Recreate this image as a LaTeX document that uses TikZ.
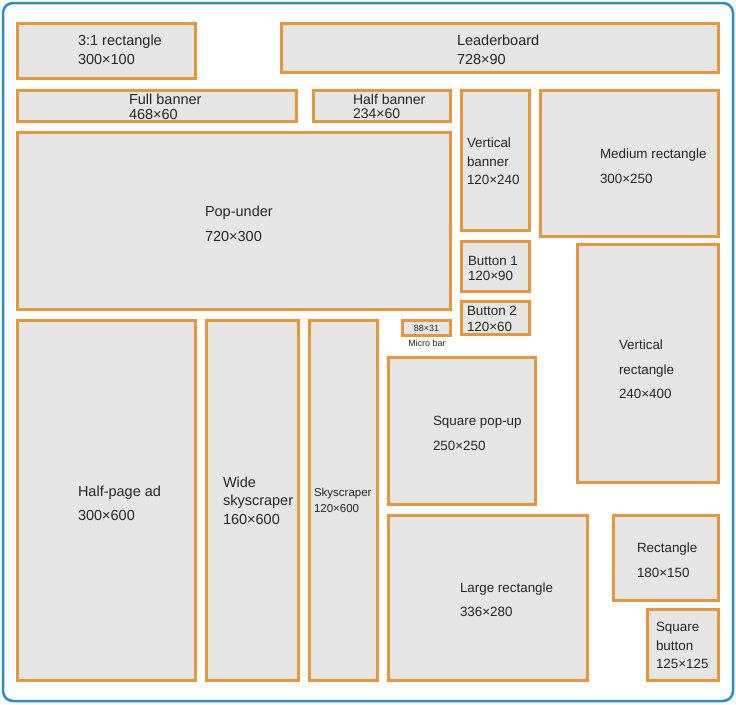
\documentclass[tikz,border=0pt]{standalone}
\usepackage{fontspec}
\setmainfont{Liberation Sans}
\definecolor{slotedge}{HTML}{E8963A}
\definecolor{slotfill}{HTML}{E6E6E6}
\definecolor{frameblue}{HTML}{2A8FC4}
\definecolor{slottext}{HTML}{262626}
\tikzset{lbl/.style 2 args={text=slottext, align=left, anchor=base west, inner sep=0pt, font=\fontsize{#1}{#2}\selectfont}}
\begin{document}
\begin{tikzpicture}[x=1pt, y=-1pt, node distance=0pt, outer sep=0pt]

\tikzstyle{slot}=[draw=slotedge, fill=slotfill, line width=3pt, rectangle, anchor=north west, inner sep=0pt]
\tikzstyle{tiny}=[text=slottext, anchor=base, inner sep=0pt, font=\fontsize{9}{10}\selectfont]

\useasboundingbox[fill=white] (0,0) rectangle (736,704);
\draw[frameblue, line width=2.5pt, rounded corners=10pt] (3,3) rectangle (733,701);

\node[slot, minimum width=178, minimum height=55] (r31) at (17.5,23.5) {}; \node[slot, minimum width=437, minimum height=49] (lead) at (281.5,23.5) {};
\node[slot, minimum width=279, minimum height=31] (full) at (17.5,90.5) {}; \node[slot, minimum width=137, minimum height=31] (half) at (313.5,90.5) {};
\node[slot, minimum width=68, minimum height=140] (vban) at (461.5,90.5) {}; \node[slot, minimum width=178, minimum height=146] (med) at (540.5,90.5) {};
\node[slot, minimum width=433, minimum height=177] (pop) at (17.5,132.5) {};
\node[slot, minimum width=68, minimum height=50] (btn1) at (461.5,241.5) {}; \node[slot, minimum width=68, minimum height=33] (btn2) at (461.5,301.5) {};
\node[slot, minimum width=48, minimum height=15] (micro) at (402.5,320.5) {}; \node[slot, minimum width=141, minimum height=238] (vrect) at (577.5,244.5) {};
\node[slot, minimum width=178, minimum height=360] (halfp) at (17.5,320.5) {}; \node[slot, minimum width=92, minimum height=360] (wide) at (206.5,320.5) {};
\node[slot, minimum width=68, minimum height=360] (sky) at (309.5,320.5) {};
\node[slot, minimum width=147, minimum height=147] (sqpop) at (388.5,357.5) {}; \node[slot, minimum width=199, minimum height=165] (large) at (388.5,515.5) {};
\node[slot, minimum width=105, minimum height=85] (rect) at (613.5,515.5) {}; \node[slot, minimum width=71, minimum height=71] (sqbtn) at (647.5,609.5) {};

\node[lbl={14.5}{19}] (r31text) at (78,64.2) {3:1 rectangle\\300×100};
\node[lbl={14.5}{19}] (leadtext) at (457,64.2) {Leaderboard\\728×90};
\node[lbl={14.5}{15}] (fulltext) at (129,119.2) {Full banner\\468×60};
\node[lbl={14}{14.5}] (halftext) at (353,118.5) {Half banner\\234×60};
\node[lbl={13.4}{18.5}] (vbantext) at (467,184.8) {Vertical\\banner\\120×240};
\node[lbl={13.4}{25}] (medtext) at (600,183.8) {Medium rectangle\\300×250};
\node[lbl={14.5}{25}] (poptext) at (205,241.2) {Pop-under\\720×300};
\node[lbl={13.4}{14.5}] (btn1text) at (468,280.3) {Button 1\\120×90};
\node[lbl={13.4}{15.5}] (btn2text) at (467,331.3) {Button 2\\120×60};
\node[tiny] (microtext) at (426.5,331.2) {88×31}; \node[tiny] (microname) at (427,346.2) {Micro bar};
\node[lbl={13.4}{24.5}] (vrecttext) at (619,398.8) {Vertical\\rectangle\\240×400};
\node[lbl={14.5}{24}] (halfptext) at (78,520.2) {Half-page ad\\300×600};
\node[lbl={14.5}{18.5}] (widetext) at (223,524.2) {Wide\\skyscraper\\160×600};
\node[lbl={11.5}{16}] (skytext) at (314,512.1) {Skyscraper\\120×600};
\node[lbl={13.4}{25}] (sqpoptext) at (433,450.8) {Square pop-up\\250×250};
\node[lbl={13.4}{24}] (largetext) at (460,616.8) {Large rectangle\\336×280};
\node[lbl={13.4}{25}] (recttext) at (637,577.8) {Rectangle\\180×150};
\node[lbl={13.4}{18.5}] (sqbtntext) at (656,668.8) {Square\\button\\125×125};

\end{tikzpicture}
\end{document}
